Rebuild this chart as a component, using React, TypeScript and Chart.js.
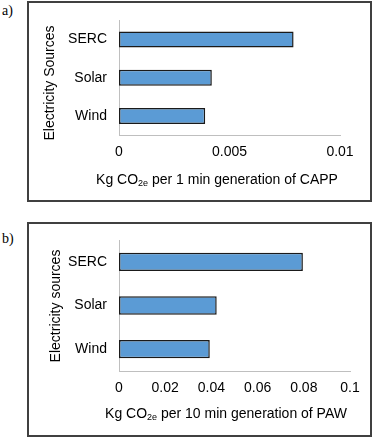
import React, { useEffect, useRef } from "react";
import { Chart, registerables } from "chart.js";

Chart.register(...registerables);

const categories = ["SERC", "Solar", "Wind"];
const valuesA = [0.0079, 0.0042, 0.0039];
const valuesB = [0.0796, 0.0423, 0.0393];
const xTicksA = ["0", "0.005", "0.01"];
const xTicksB = ["0", "0.02", "0.04", "0.06", "0.08", "0.1"];

const FONT = '"Liberation Sans", Arial, sans-serif';
const BAR_FILL = "#5b9bd5";
const BAR_EDGE = "#1a1a1a";
const AXIS = "#bfbfbf";

const titlesPlugin = {
  id: "customTitles",
  afterDraw(chart: any, _args: any, o: any) {
    const ctx = chart.ctx;
    ctx.save();
    ctx.fillStyle = "#000";
    ctx.font = `14px ${FONT}`;
    ctx.textBaseline = "middle";
    // y title
    ctx.save();
    ctx.translate(o.yX, o.yY);
    ctx.rotate(-Math.PI / 2);
    ctx.textAlign = "center";
    ctx.fillText(o.yTitle, 0, 0);
    ctx.restore();
    // x title with subscript
    const pre = o.xPre;
    const sub = o.xSub;
    const post = o.xPost;
    ctx.font = `14px ${FONT}`;
    const w1 = ctx.measureText(pre).width;
    const w3 = ctx.measureText(post).width;
    ctx.font = `9px ${FONT}`;
    const w2 = ctx.measureText(sub).width;
    const total = w1 + w2 + w3;
    let x = o.xX - total / 2;
    ctx.textAlign = "left";
    ctx.font = `14px ${FONT}`;
    ctx.fillText(pre, x, o.xY);
    x += w1;
    ctx.font = `9px ${FONT}`;
    ctx.fillText(sub, x, o.xY + 4);
    x += w2;
    ctx.font = `14px ${FONT}`;
    ctx.fillText(post, x, o.xY);
    ctx.restore();
  },
};

function makeConfig(
  values: number[],
  max: number,
  step: number,
  tickLabels: string[],
  padTop: number,
  padRight: number,
  yWidth: number,
  xHeight: number,
  titles: any
) {
  return {
    type: "bar" as const,
    data: {
      labels: categories,
      datasets: [
        {
          data: values,
          backgroundColor: BAR_FILL,
          borderColor: BAR_EDGE,
          borderWidth: 1.5,
          borderSkipped: false,
          barPercentage: 0.42,
          categoryPercentage: 1,
        },
      ],
    },
    options: {
      indexAxis: "y" as const,
      responsive: false,
      animation: false as const,
      devicePixelRatio: 1,
      layout: { padding: { top: padTop, right: padRight, left: 0, bottom: 0 } },
      plugins: {
        legend: { display: false },
        tooltip: { enabled: false },
        customTitles: titles,
      },
      scales: {
        x: {
          min: 0,
          max: max,
          ticks: {
            stepSize: step,
            color: "#000",
            font: { family: FONT, size: 14 },
            padding: 9,
            maxRotation: 0,
            autoSkip: false,
            callback: (_v: any, i: number) => tickLabels[i],
          },
          grid: { display: false, drawTicks: false },
          border: { display: true, color: AXIS, width: 1 },
          afterFit: (s: any) => {
            s.height = xHeight;
          },
        },
        y: {
          ticks: {
            color: "#000",
            font: { family: FONT, size: 14 },
            padding: 12,
          },
          grid: { display: false, drawTicks: false },
          border: { display: true, color: AXIS, width: 1 },
          afterFit: (s: any) => {
            s.width = yWidth;
          },
        },
      },
    },
    plugins: [titlesPlugin],
  };
}

function BarPanel(props: { config: any; width: number; height: number }) {
  const ref = useRef<HTMLCanvasElement | null>(null);
  useEffect(() => {
    if (!ref.current) return;
    const chart = new Chart(ref.current, props.config);
    return () => chart.destroy();
  }, []);
  return (
    <canvas
      ref={ref}
      width={props.width}
      height={props.height}
      style={{ display: "block", width: props.width, height: props.height }}
    />
  );
}

export default function App() {
  const cfgA = makeConfig(valuesA, 0.01, 0.005, xTicksA, 20, 40, 119, 80, {
    yTitle: "Electricity Sources",
    yX: 50,
    yY: 83,
    xPre: "Kg CO",
    xSub: "2e",
    xPost: " per 1 min generation of CAPP",
    xX: 217,
    xY: 180,
  });
  const cfgB = makeConfig(valuesB, 0.1, 0.02, xTicksB, 22, 30, 119, 67, {
    yTitle: "Electricity sources",
    yX: 56,
    yY: 88,
    xPre: "Kg CO",
    xSub: "2e",
    xPost: " per 10 min generation of PAW",
    xX: 226,
    xY: 196,
  });
  const boxStyle: React.CSSProperties = {
    position: "absolute",
    left: 27,
    width: 345,
    border: "2px solid #404040",
    boxSizing: "border-box",
  };
  const labelStyle: React.CSSProperties = {
    position: "absolute",
    left: 2,
    fontFamily: '"Liberation Serif", "Times New Roman", serif',
    fontSize: 14,
    lineHeight: "14px",
    color: "#000",
  };
  return (
    <div
      style={{
        position: "absolute",
        left: 0,
        top: 0,
        width: 380,
        height: 438,
        background: "#fff",
        overflow: "hidden",
      }}
    >
      <div style={{ ...boxStyle, top: 1, height: 201 }} />
      <div style={{ ...boxStyle, top: 222, height: 215 }} />
      <div style={{ ...labelStyle, top: 4 }}>a)</div>
      <div style={{ ...labelStyle, top: 232 }}>b)</div>
      <div style={{ position: "absolute", left: 0, top: 0 }}>
        <BarPanel config={cfgA} width={380} height={215} />
      </div>
      <div style={{ position: "absolute", left: 0, top: 218 }}>
        <BarPanel config={cfgB} width={380} height={220} />
      </div>
    </div>
  );
}
